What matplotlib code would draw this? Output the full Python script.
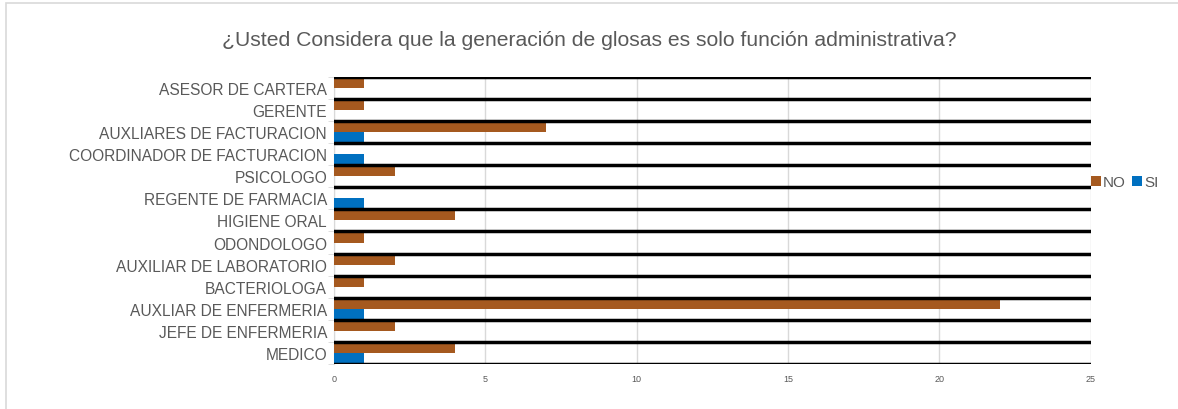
import matplotlib.pyplot as plt
import numpy as np
from matplotlib.patches import Rectangle

categorias = ['ASESOR DE CARTERA', 'GERENTE', 'AUXLIARES DE FACTURACION',
              'COORDINADOR DE FACTURACION', 'PSICOLOGO', 'REGENTE DE FARMACIA',
              'HIGIENE ORAL', 'ODONDOLOGO', 'AUXILIAR DE LABORATORIO',
              'BACTERIOLOGA', 'AUXLIAR DE ENFERMERIA', 'JEFE DE ENFERMERIA', 'MEDICO']
no_vals = [1, 1, 7, 0, 2, 0, 4, 1, 2, 1, 22, 2, 4]
si_vals = [0, 0, 1, 1, 0, 1, 0, 0, 0, 0, 1, 0, 1]
xticks = [0, 5, 10, 15, 20, 25]

plt.rcParams['font.family'] = ['Liberation Sans', 'DejaVu Sans']

fig = plt.figure(figsize=(11.78, 4.10), dpi=100)
ax = fig.add_axes([0.2835, 0.1098, 0.926 - 0.2835, 0.81 - 0.1098])

# outer border (only top and left visible in the original)
fig.patches.append(Rectangle((0.0055, -0.1), 1.1, 1.09, transform=fig.transFigure,
                             fill=False, edgecolor='#D9D9D9', linewidth=1.2))

y = np.arange(len(categorias))
h = 0.45
ax.barh(y - h / 2, no_vals, height=h, color='#A5591F', label='NO', zorder=3)
ax.barh(y + h / 2, si_vals, height=h, color='#0070C0', label='SI', zorder=3)

ax.set_ylim(len(categorias) - 0.5, -0.5)
ax.set_xlim(0, 25)
ax.set_xticks(xticks)
ax.set_yticks(y)
ax.set_yticklabels(categorias)
ax.set_yticks(np.arange(-0.5, len(categorias), 1), minor=True)
for b in np.arange(-0.5, len(categorias), 1):
    ax.axhline(b, color='black', linewidth=2.5, zorder=4)
ax.grid(axis='x', color='#D9D9D9', linewidth=1, zorder=0)
for s in ax.spines.values():
    s.set_visible(False)
ax.spines['left'].set_visible(True)
ax.spines['left'].set_color('#D9D9D9')
ax.tick_params(axis='y', which='major', labelsize=11.2, labelcolor='#595959', length=0, pad=5)
ax.tick_params(axis='y', which='minor', length=4, color='#D9D9D9')
ax.tick_params(axis='x', labelsize=6.5, labelcolor='#595959', length=0, pad=7)

fig.text(0.5, 0.9, '¿Usted Considera que la generación de glosas es solo función administrativa?',
         ha='center', va='center', fontsize=15.2, color='#595959')

fig.legend(loc='center left', bbox_to_anchor=(0.926, 1 - 183 / 410), frameon=False, ncol=2,
           fontsize=11, labelcolor='#595959', handlelength=0.65, handleheight=0.65,
           handletextpad=0.15, columnspacing=0.4, borderaxespad=0, borderpad=0)

fig.savefig('out.png', dpi=100)
